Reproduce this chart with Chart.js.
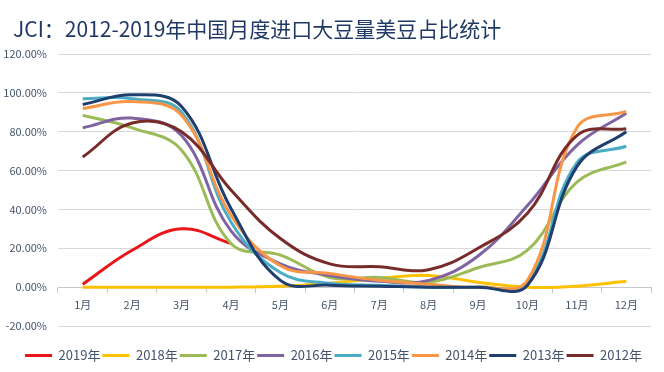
<!DOCTYPE html>
<html>
<head>
<meta charset="utf-8">
<script src="https://cdn.jsdelivr.net/npm/chart.js@4.4.1/dist/chart.umd.min.js"></script>
<style>
  html, body { margin: 0; padding: 0; background: #fff; }
  #wrap { width: 664px; height: 372px; }
</style>
</head>
<body>
<div id="wrap"><canvas id="chart" width="664" height="372"></canvas></div>
<script>
const months = ["1月", "2月", "3月", "4月", "5月", "6月", "7月", "8月", "9月", "10月", "11月", "12月"];
const yTicks = [-20, 0, 20, 40, 60, 80, 100, 120];

// 美豆占比 (%)
const y2019 = [1.5, 19, 30, 22.5, null, null, null, null, null, null, null, null];
const y2018 = [0, 0, 0, 0, 0.5, 2, 4.5, 6, 2.5, 0, 0.5, 3];
const y2017 = [88.5, 82, 70.5, 22.5, 16.5, 5, 5, 2.5, 10, 19, 54, 64.5];
const y2016 = [82, 87, 78, 29, 12, 6, 3, 3.5, 16, 42, 73, 89.5];
const y2015 = [97, 97, 90, 33.5, 7.5, 2, 1, 0, 0, 2.5, 64, 72.5];
const y2014 = [92, 95.5, 88.5, 37, 11, 7, 3.5, 1.5, 0, 3.5, 82, 90.5];
const y2013 = [94, 99, 93, 40.5, 3.5, 1, 0.5, 0, 0, 1, 62, 80];
const y2012 = [67, 84.5, 80, 50, 25, 12, 10.5, 9, 20, 38, 78, 81.5];

const seriesNames = ["2019年", "2018年", "2017年", "2016年", "2015年", "2014年", "2013年", "2012年"];
const seriesData = [y2019, y2018, y2017, y2016, y2015, y2014, y2013, y2012];
const colors = ["#E8161B", "#FFC000", "#9BBB59", "#8064A2", "#4BACC6", "#F79646", "#1F3F6E", "#772C2A"];

const TITLE = "JCI：2012-2019年中国月度进口大豆量美豆占比统计";
const FONT = "'Noto Sans CJK SC', 'Noto Sans', sans-serif";
const TEXT = "#44546A";

const datasets = seriesNames.map((name, i) => ({
  label: name,
  data: seriesData[i],
  borderColor: colors[i],
  backgroundColor: colors[i],
  borderWidth: 3,
  pointRadius: 0,
  tension: 0.4,
  fill: false,
  order: seriesNames.length - i   // later years drawn on top, like the original
}));

// title drawn by hand so it can sit left of the y labels
const titlePlugin = {
  id: "titleText",
  afterDraw(chart) {
    const ctx = chart.ctx;
    ctx.save();
    ctx.font = "21px " + FONT;
    ctx.fillStyle = "#1F3864";
    ctx.textAlign = "left";
    ctx.textBaseline = "middle";
    ctx.fillText(TITLE, 13, 29);
    ctx.restore();
  }
};

// nudge the legend a bit right to match the original
const legendShift = {
  id: "legendShift",
  afterLayout(chart) {
    chart.legend.left += 16;
  }
};

new Chart(document.getElementById("chart"), {
  type: "line",
  data: { labels: months, datasets: datasets },
  plugins: [titlePlugin, legendShift],
  options: {
    responsive: false,
    animation: false,
    layout: { padding: { left: 0, right: 13, top: 54, bottom: 0 } },
    scales: {
      x: {
        type: "category",
        position: { y: 0 },
        offset: true,
        grid: { display: true, drawOnChartArea: false, drawTicks: true, tickLength: 5, offset: true, color: "#C8C8C8" },
        border: { display: true, color: "#C8C8C8" },
        ticks: { color: TEXT, font: { family: FONT, size: 11 }, padding: 6, maxRotation: 0, autoSkip: false }
      },
      pad: {
        type: "category",
        position: "bottom",
        grid: { display: false },
        border: { display: false },
        ticks: { display: false },
        afterFit: (s) => { s.height = 21; }
      },
      y: {
        min: -20,
        max: 120,
        afterBuildTicks: (s) => { s.ticks = yTicks.map(v => ({ value: v })); },
        afterFit: (s) => { s.width = 58; },
        grid: { color: "#D9D9D9", drawTicks: false },
        border: { display: false },
        ticks: {
          color: TEXT,
          font: { family: FONT, size: 11 },
          padding: 11,
          callback: (v) => v.toFixed(2) + "%"
        }
      }
    },
    plugins: {
      title: { display: false },
      legend: {
        position: "bottom",
        labels: {
          boxWidth: 27,
          boxHeight: 3,
          padding: 2,
          color: TEXT,
          font: { family: FONT, size: 13 },
          sort: (a, b) => a.datasetIndex - b.datasetIndex,
          generateLabels: (chart) =>
            Chart.defaults.plugins.legend.labels.generateLabels(chart).map(l => ({ ...l, lineWidth: 0 }))
        }
      },
      tooltip: { enabled: false }
    }
  }
});
</script>
</body>
</html>
